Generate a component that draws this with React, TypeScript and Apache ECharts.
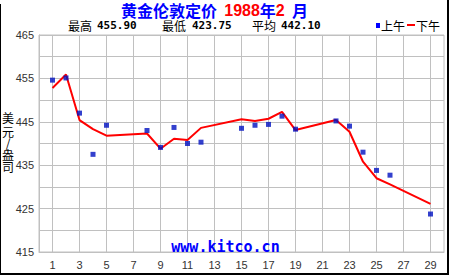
import React, { useEffect, useRef } from "react";
import * as echarts from "echarts";

// Categories: days of February 1988 (0 and 30 are the axis ends)
const dayCategories = [
  "0", "1", "2", "3", "4", "5", "6", "7", "8", "9", "10",
  "11", "12", "13", "14", "15", "16", "17", "18", "19", "20",
  "21", "22", "23", "24", "25", "26", "27", "28", "29", "30",
];
const xLabelDays = [1, 3, 5, 7, 9, 11, 13, 15, 17, 19, 21, 23, 25, 27, 29];
const yLabelValues = [415, 425, 435, 445, 455, 465];

// Trading days
const tradeDays = [1, 2, 3, 4, 5, 8, 9, 10, 11, 12, 15, 16, 17, 18, 19, 22, 23, 24, 25, 26, 29];
// 上午 (AM fix)
const amPrices = [
  454.6, 455.1, 447.0, 437.5, 444.2, 443.0, 439.1, 443.7, 440.0, 440.3,
  443.5, 444.2, 444.4, 446.3, 443.3, 445.2, 444.0, 438.0, 433.8, 432.7, 423.75,
];
// 下午 (PM fix)
const pmPrices = [
  452.8, 455.9, 445.4, 443.3, 441.8, 442.3, 438.8, 441.1, 440.8, 443.6,
  445.6, 445.2, 445.7, 447.3, 443.1, 445.4, 442.7, 435.8, 432.0, 430.6, 426.1,
];

const titleText = "{b|黄金伦敦定价  }{r|1988}{b|年}{r|2}{b|  月}";
const statLabels = ["最高", "最低", "平均"];
const statValues = ["455.90", "423.75", "442.10"];
const legendNames = ["上午", "下午"];
const yAxisNameChars = ["美", "元", "/", "盎", "司"];
const watermark = "www.kitco.cn";

export default function App() {
  const ref = useRef<HTMLDivElement>(null);

  useEffect(() => {
    const chart = echarts.init(ref.current!, null, { renderer: "svg" });
    const gridColor = "#c0c0c0";
    const labelColor = "#333333";
    const cjk = "'Noto Sans CJK SC', sans-serif";
    const mono = "'DejaVu Sans Mono', monospace";

    const statLabelX = [68, 162, 252];
    const statValueX = [97, 192, 281];
    const yNameY = [117.5, 131, 142.5, 154, 166.5];

    const graphics: any[] = [
      {
        type: "text",
        x: 121,
        y: 10,
        style: {
          text: titleText,
          verticalAlign: "middle",
          rich: {
            b: { fontFamily: cjk, fontSize: 16, lineHeight: 17, fontWeight: "bold", fill: "#0000ff" },
            r: { fontFamily: "'Liberation Sans', Arial, sans-serif", fontSize: 16, lineHeight: 17, fontWeight: "bold", fill: "#ff0000" },
          },
        },
      },
      ...statLabels.map((t, i) => ({
        type: "text",
        x: statLabelX[i],
        y: 25,
        style: { text: t, fontFamily: cjk, fontSize: 12, lineHeight: 12, fill: "#000", verticalAlign: "middle" },
      })),
      ...statValues.map((t, i) => ({
        type: "text",
        x: statValueX[i],
        y: 25,
        style: { text: t, fontFamily: mono, fontSize: 11, lineHeight: 12, fontWeight: "bold", fill: "#000", verticalAlign: "middle" },
      })),
      { type: "rect", shape: { x: 376, y: 23, width: 4, height: 5 }, style: { fill: "#0000ff" } },
      {
        type: "text",
        x: 381,
        y: 25,
        style: { text: legendNames[0], fontFamily: cjk, fontSize: 12, lineHeight: 12, fill: "#000", verticalAlign: "middle" },
      },
      { type: "rect", shape: { x: 407, y: 24, width: 8, height: 2 }, style: { fill: "#ff0000" } },
      {
        type: "text",
        x: 416,
        y: 25,
        style: { text: legendNames[1], fontFamily: cjk, fontSize: 12, lineHeight: 12, fill: "#000", verticalAlign: "middle" },
      },
      ...yAxisNameChars.map((c, i) => ({
        type: "text",
        x: 8,
        y: yNameY[i],
        style: {
          text: c,
          fontFamily: cjk,
          fontSize: 12,
          lineHeight: 11,
          fill: "#000",
          align: "center",
          verticalAlign: "middle",
        },
      })),
      {
        type: "text",
        x: 225.5,
        y: 247,
        z: 100,
        style: {
          text: watermark,
          fontFamily: mono,
          fontSize: 15,
          fontWeight: "bold",
          fill: "#0000ff",
          align: "center",
          verticalAlign: "middle",
        },
      },
      { type: "rect", shape: { x: 0, y: 4, width: 1, height: 271 }, style: { fill: "#000" } },
      { type: "rect", shape: { x: 447, y: 0, width: 2, height: 275 }, style: { fill: "#000" } },
      { type: "rect", shape: { x: 0, y: 273, width: 449, height: 2 }, style: { fill: "#000" } },
    ];

    chart.setOption({
      animation: false,
      backgroundColor: "#ffffff",
      textStyle: { fontFamily: "'Liberation Sans', Arial, sans-serif" },
      grid: {
        left: 39,
        top: 35,
        right: 6,
        bottom: 23,
        show: true,
        borderColor: gridColor,
        borderWidth: 1,
      },
      xAxis: {
        type: "category",
        data: dayCategories,
        boundaryGap: false,
        axisLine: { show: true, lineStyle: { color: gridColor } },
        axisTick: { show: false },
        axisLabel: {
          interval: (i: number) => xLabelDays.includes(i),
          color: labelColor,
          fontSize: 11,
          margin: 7,
        },
        splitLine: {
          show: true,
          interval: (i: number) => xLabelDays.includes(i),
          lineStyle: { color: gridColor, width: 1 },
        },
      },
      yAxis: {
        type: "value",
        min: 415,
        max: 465,
        interval: 5,
        axisLine: { show: true, lineStyle: { color: gridColor } },
        axisTick: { show: false },
        axisLabel: {
          formatter: (v: number) => (yLabelValues.includes(Math.round(v)) ? String(Math.round(v)) : ""),
          color: labelColor,
          fontSize: 11,
          margin: 5,
        },
        splitLine: { show: true, lineStyle: { color: gridColor, width: 1 } },
      },
      series: [
        {
          name: legendNames[1],
          type: "line",
          data: tradeDays.map((d, i) => [d, pmPrices[i]]),
          symbol: "none",
          lineStyle: { color: "#ff0000", width: 2 },
          z: 2,
        },
        {
          name: legendNames[0],
          type: "scatter",
          data: tradeDays.map((d, i) => [d, amPrices[i]]),
          symbol: "rect",
          symbolSize: 5,
          itemStyle: { color: "#0010c0" },
          z: 3,
        },
      ],
      graphic: graphics,
    });

    return () => chart.dispose();
  }, []);

  return (
    <div
      ref={ref}
      style={{ position: "fixed", left: 0, top: 0, width: 450, height: 275 }}
    />
  );
}
